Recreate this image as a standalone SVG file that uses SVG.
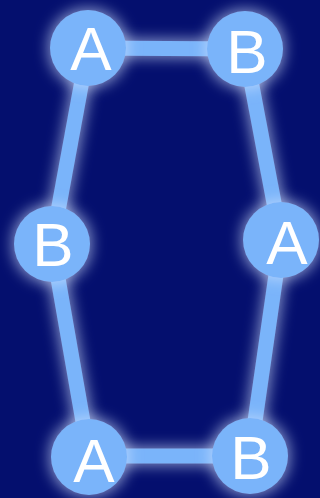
<svg xmlns="http://www.w3.org/2000/svg" width="320" height="498" viewBox="0 0 320 498">
  <defs>
    <!-- soft pale halo around edges and nodes -->
    <filter id="glow" x="-50%" y="-50%" width="200%" height="200%">
      <feMorphology in="SourceAlpha" operator="dilate" radius="2" result="grown"/>
      <feGaussianBlur in="grown" stdDeviation="7" result="blur"/>
      <feFlood flood-color="#d6e6ff" flood-opacity="0.6"/>
      <feComposite in2="blur" operator="in" result="halo"/>
      <feMerge>
        <feMergeNode in="halo"/>
        <feMergeNode in="SourceGraphic"/>
      </feMerge>
    </filter>
    <style>
      .edge { stroke: #7ab4fa; stroke-width: 15; fill: none; }
      .node circle { fill: #7ab4fa; }
      .node text { fill: #ffffff; font-family: "Liberation Sans", Arial, sans-serif; font-size: 62px; text-anchor: middle; }
    </style>
  </defs>

  <rect width="320" height="498" fill="#040f6e"/>

  <g id="connectors" filter="url(#glow)">
    <line class="edge" x1="88" y1="48" x2="245" y2="49"/>
    <line class="edge" x1="245" y1="49" x2="281" y2="240"/>
    <line class="edge" x1="281" y1="240" x2="250" y2="456"/>
    <line class="edge" x1="250" y1="456" x2="89" y2="456"/>
    <line class="edge" x1="89" y1="456" x2="52" y2="244"/>
    <line class="edge" x1="52" y1="244" x2="88" y2="48"/>
  </g>

  <g id="node-a1" class="node" filter="url(#glow)">
    <circle cx="88" cy="48" r="38"/>
    <text x="91" y="70">A</text>
  </g>
  <g id="node-b1" class="node" filter="url(#glow)">
    <circle cx="245" cy="49" r="38"/>
    <text x="247" y="73">B</text>
  </g>
  <g id="node-b2" class="node" filter="url(#glow)">
    <circle cx="52" cy="244" r="38"/>
    <text x="53" y="266">B</text>
  </g>
  <g id="node-a2" class="node" filter="url(#glow)">
    <circle cx="281" cy="240" r="38"/>
    <text x="287" y="264">A</text>
  </g>
  <g id="node-a3" class="node" filter="url(#glow)">
    <circle cx="89" cy="457" r="38"/>
    <text x="94" y="482">A</text>
  </g>
  <g id="node-b3" class="node" filter="url(#glow)">
    <circle cx="250" cy="456" r="38"/>
    <text x="251" y="479">B</text>
  </g>
</svg>
